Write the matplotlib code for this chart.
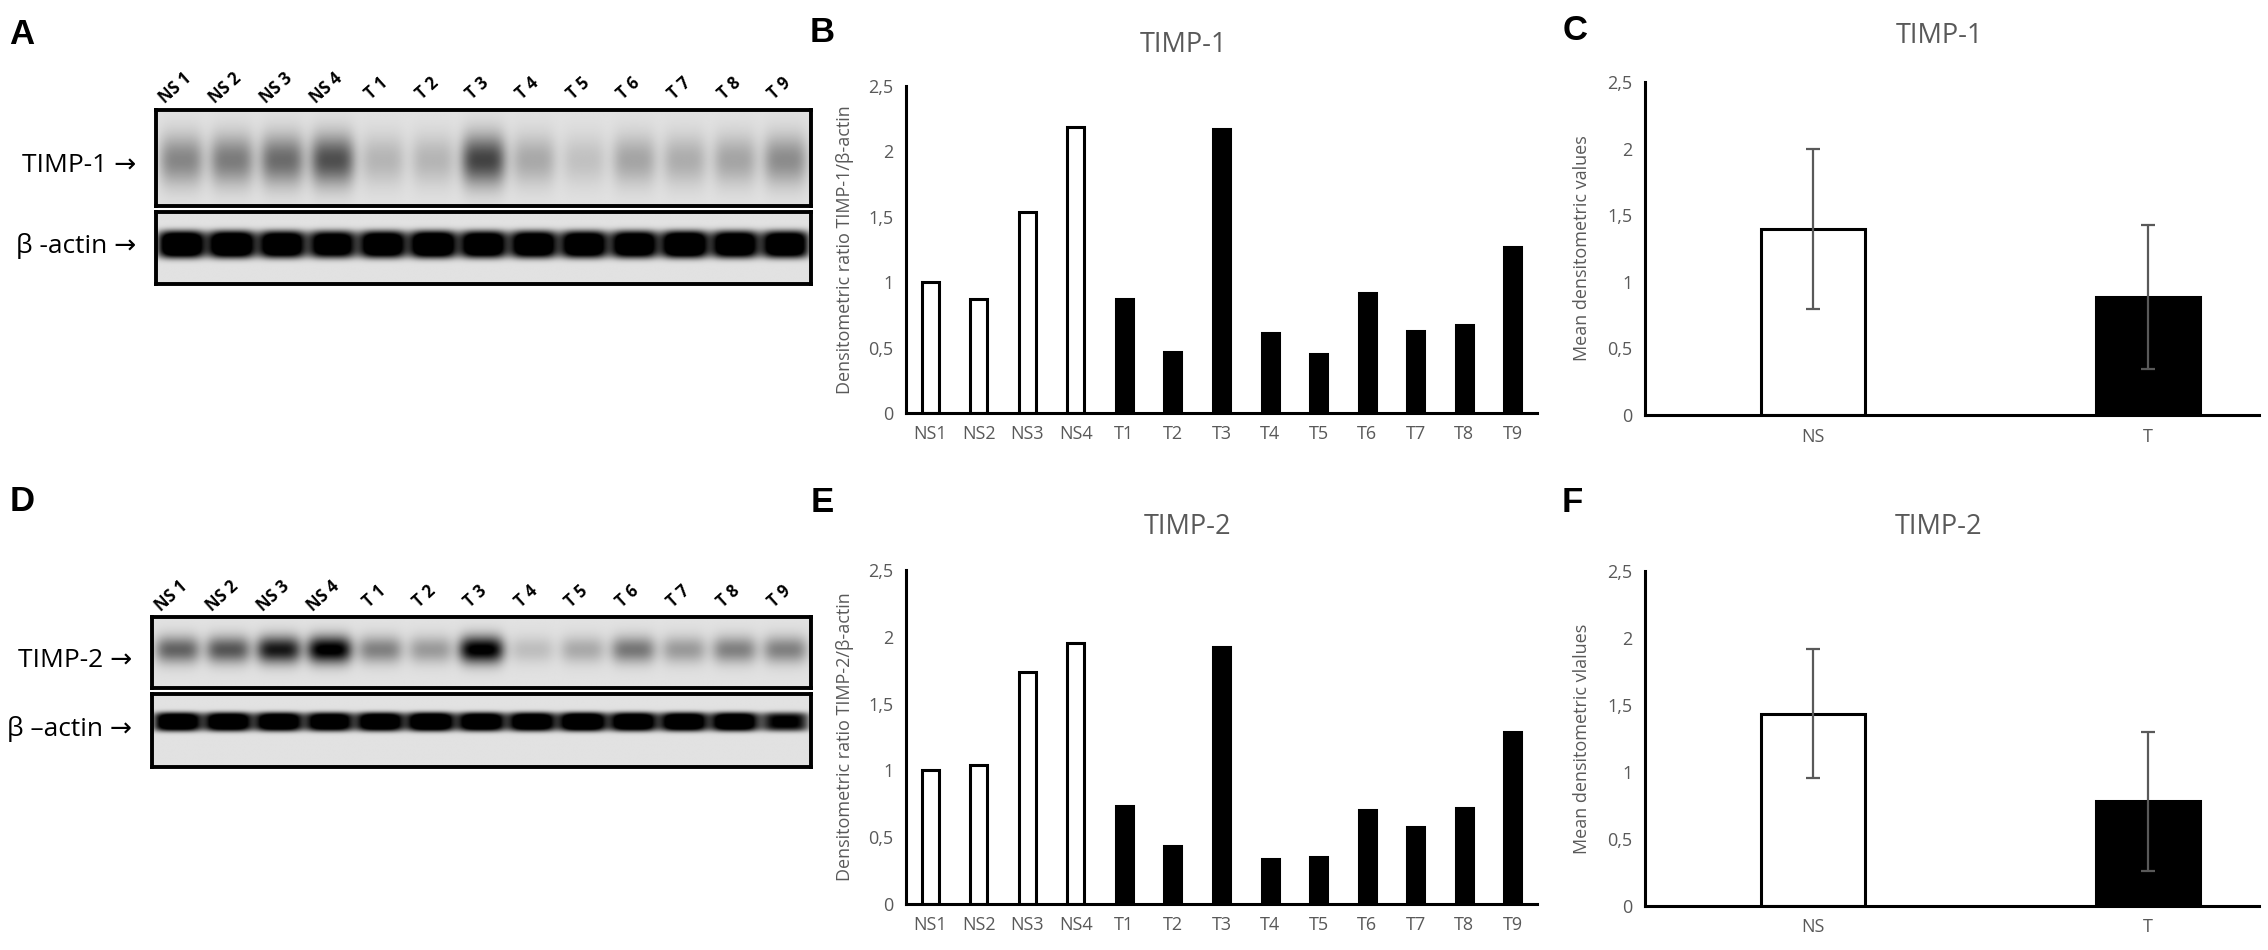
import numpy as np
import matplotlib
matplotlib.use("Agg")
import matplotlib.pyplot as plt

# ---- data ----
lanes = ["NS 1", "NS 2", "NS 3", "NS 4", "T 1", "T 2", "T 3", "T 4", "T 5", "T 6", "T 7", "T 8", "T 9"]
samples = ["NS1", "NS2", "NS3", "NS4", "T1", "T2", "T3", "T4", "T5", "T6", "T7", "T8", "T9"]
groups = ["NS", "T"]

timp1_ratio = [1.00, 0.874, 1.54, 2.19, 0.87, 0.467, 2.17, 0.61, 0.45, 0.92, 0.63, 0.67, 1.27]
timp2_ratio = [1.005, 1.04, 1.74, 1.956, 0.73, 0.434, 1.92, 0.334, 0.352, 0.70, 0.58, 0.72, 1.29]

timp1_mean = [1.395, 0.886]
timp1_err = [0.60, 0.54]
timp2_mean = [1.436, 0.78]
timp2_err = [0.48, 0.516]

# band darkness on the blots (0 = none, 1 = saturated)
timp1_band = [0.45, 0.50, 0.58, 0.72, 0.22, 0.22, 0.78, 0.28, 0.16, 0.30, 0.26, 0.30, 0.42]
actin1_band = [1.0, 1.0, 0.95, 0.9, 0.95, 1.0, 0.95, 0.95, 0.95, 0.95, 1.0, 0.95, 0.95]
timp2_band = [0.50, 0.55, 0.80, 0.95, 0.38, 0.28, 0.95, 0.14, 0.22, 0.42, 0.28, 0.38, 0.38]
actin2_band = [0.95, 0.95, 0.95, 0.92, 0.95, 1.0, 0.95, 0.95, 1.0, 0.95, 0.95, 0.95, 0.72]

W, H = 2268, 950
GREY = "#595959"
FONT = ["Open Sans", "DejaVu Sans"]


def rect(x0, y0, x1, y1):
    # pixel box (top-left origin) -> figure fraction
    return [x0 / W, 1 - y1 / H, (x1 - x0) / W, (y1 - y0) / H]


def fx(x):
    return x / W


def fy(y):
    return 1 - y / H


def blot_image(levels, center, half, flat, gain, lane_half):
    nx, ny = 800, 140
    x = np.linspace(0, len(levels), nx)
    y = np.linspace(0, 1, ny)
    img = np.full((ny, nx), 0.885)
    for i, v in enumerate(levels):
        px = np.exp(-np.abs((x - (i + 0.5)) / lane_half) ** 4)
        py = np.exp(-np.abs((y - center) / half) ** (2 * flat))
        img -= gain * v * np.outer(py, px)
    return np.clip(img, 0, 1)


def draw_blot(fig, box, levels, center, half, flat, gain, lane_half):
    ax = fig.add_axes(rect(*box))
    ax.imshow(blot_image(levels, center, half, flat, gain, lane_half), cmap="gray",
              vmin=0, vmax=1, aspect="auto", extent=(0, len(levels), 1, 0),
              interpolation="bilinear")
    ax.set_xticks([])
    ax.set_yticks([])
    for s in ax.spines.values():
        s.set_linewidth(2.8)
        s.set_color("black")
    return ax


def blot_panel(fig, x0, x1, top_box, low_box, label_y, prot_levels, actin_levels,
               prot_name, actin_name, prot_shape, actin_shape):
    draw_blot(fig, (x0, top_box[0], x1, top_box[1]), prot_levels, *prot_shape)
    draw_blot(fig, (x0, low_box[0], x1, low_box[1]), actin_levels, *actin_shape)
    step = (x1 - x0) / len(lanes)
    for i, name in enumerate(lanes):
        fig.text(fx(x0 + step * (i + 0.5) - 6), fy(label_y), name, rotation=42,
                 ha="center", va="center", fontsize=12, fontweight="bold", family=FONT)
    fig.text(fx(x0 - 20), fy((top_box[0] + top_box[1]) / 2 + 8), prot_name + " \u2192",
             ha="right", va="center", fontsize=19, family=FONT)
    fig.text(fx(x0 - 20), fy((low_box[0] + low_box[1]) / 2 - 2), actin_name + " \u2192",
             ha="right", va="center", fontsize=19, family=FONT)


def style_axes(ax):
    ax.set_ylim(0, 2.5)
    ax.set_yticks([0, 0.5, 1, 1.5, 2, 2.5])
    ax.set_yticklabels(["0", "0,5", "1", "1,5", "2", "2,5"])
    for s in ["top", "right"]:
        ax.spines[s].set_visible(False)
    ax.spines["left"].set_linewidth(2.2)
    ax.spines["bottom"].set_linewidth(2.2)
    ax.tick_params(axis="both", length=0, labelsize=13, labelcolor=GREY, pad=9)
    for lab in ax.get_xticklabels() + ax.get_yticklabels():
        lab.set_family(FONT)
    ax.set_facecolor("none")


def sample_chart(fig, box, values, ylabel):
    ax = fig.add_axes(rect(*box))
    x = np.arange(len(samples))
    colors = ["white" if s.startswith("NS") else "black" for s in samples]
    ax.bar(x, values, width=0.35, color=colors, edgecolor="black", linewidth=2.2)
    ax.set_xlim(-0.5, len(samples) - 0.5)
    ax.set_xticks(x)
    ax.set_xticklabels(samples)
    style_axes(ax)
    ax.set_ylabel(ylabel, fontsize=13, color=GREY, family=FONT, labelpad=10)
    return ax


def mean_chart(fig, box, means, errs, ylabel):
    ax = fig.add_axes(rect(*box))
    x = np.arange(len(groups))
    ax.bar(x, means, width=0.31, color=["white", "black"], edgecolor="black", linewidth=2.2,
           yerr=errs, error_kw=dict(ecolor=GREY, elinewidth=1.6, capsize=5, capthick=1.6))
    ax.set_xlim(-0.5, 1.33)
    ax.set_xticks(x)
    ax.set_xticklabels(groups)
    style_axes(ax)
    ax.set_ylabel(ylabel, fontsize=13, color=GREY, family=FONT, labelpad=12)
    return ax


fig = plt.figure(figsize=(W / 100, H / 100), dpi=100)

# panel letters
for letter, (x, y) in zip("ABCDEF", [(22, 35), (822, 33), (1575, 30), (22, 502), (822, 503), (1572, 503)]):
    fig.text(fx(x), fy(y), letter, ha="center", va="center", fontsize=25,
             fontweight="bold", family=["Liberation Sans", "DejaVu Sans"])

# A and D: western blots  (shape: center, half height, flatness, gain, lane half width)
blot_panel(fig, 156, 811, (110, 206), (212, 284), 88, timp1_band, actin1_band,
           "TIMP-1", "\u03b2 -actin", (0.52, 0.26, 1, 0.8, 0.44), (0.45, 0.19, 2, 1.3, 0.47))
blot_panel(fig, 152, 811, (617, 688), (694, 767), 596, timp2_band, actin2_band,
           "TIMP-2", "\u03b2 \u2013actin", (0.46, 0.19, 1, 1.0, 0.44), (0.38, 0.13, 2, 1.3, 0.47))

# B and E: per-sample ratios
sample_chart(fig, (906, 86, 1537, 413), timp1_ratio, "Densitometric ratio TIMP-1/\u03b2-actin")
sample_chart(fig, (906, 570, 1537, 904), timp2_ratio, "Densitometric ratio TIMP-2/\u03b2-actin")

# C and F: group means
mean_chart(fig, (1645, 82, 2259, 415), timp1_mean, timp1_err, "Mean densitometric values")
mean_chart(fig, (1645, 571, 2259, 906), timp2_mean, timp2_err, "Mean densitometric vlalues")

# chart titles
for title, (x, y) in zip(["TIMP-1", "TIMP-2", "TIMP-1", "TIMP-2"],
                         [(1183, 45), (1188, 527), (1939, 36), (1939, 527)]):
    fig.text(fx(x), fy(y), title, ha="center", va="center", fontsize=19.5, color=GREY, family=FONT)

fig.savefig("out.png", dpi=100)
